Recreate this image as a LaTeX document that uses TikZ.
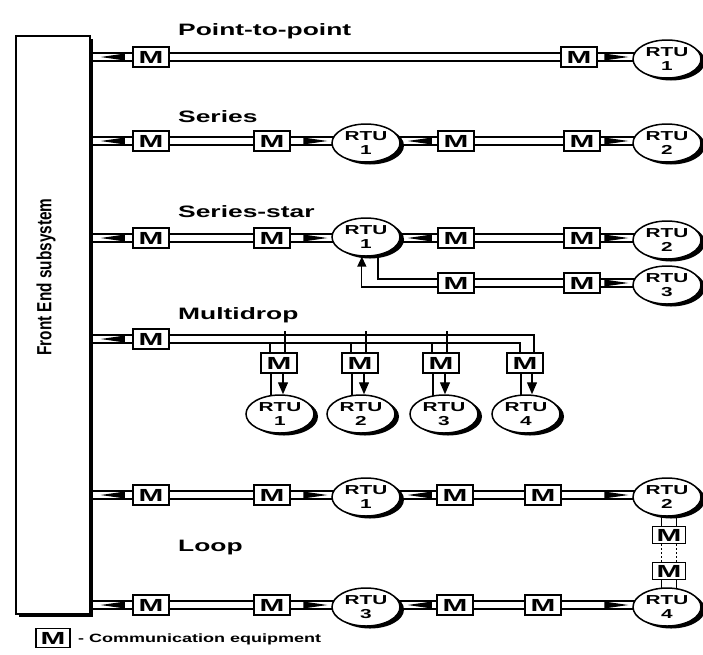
\documentclass[tikz,border=0pt]{standalone}
\usepackage{fontspec}
\usetikzlibrary{calc,shapes.geometric,shadows,arrows.meta}
\newfontfamily\lblfont{Liberation Sans Bold}[FakeStretch=1.6]
\newfontfamily\mfont{Liberation Sans Bold}[FakeStretch=1.7]
\newfontfamily\legfont{Liberation Sans Bold}[FakeStretch=1.5]
\newfontfamily\fefont{Liberation Sans Bold}[FakeStretch=0.75]
\pgfdeclarelayer{paper}
\pgfdeclarelayer{wires}
\pgfsetlayers{paper,wires,main}
% flow wedges inside a double line: tip given, body trails behind it
\newcommand\wedgeR[1]{\fill #1 -- ++(-24,-3.5) -- ++(0,7) -- cycle;}
\newcommand\wedgeL[1]{\fill #1 -- ++(24,-3.5) -- ++(0,7) -- cycle;}
\begin{document}
\begin{tikzpicture}[x=1pt,y=-1pt,
  mbox/.style={draw, line width=1.8pt, fill=white, minimum width=36pt, minimum height=20pt,
    inner sep=0pt, font=\mfont\fontsize{17.5}{17.5}\selectfont},
  vbox/.style={mbox, minimum width=33pt, minimum height=17pt},
  rtu/.style={ellipse, draw, line width=1.5pt, fill=white, minimum width=68pt, minimum height=38pt,
    inner sep=0pt, align=center, font=\lblfont\fontsize{13}{14}\selectfont,
    general shadow={fill=black, shadow xshift=4pt, shadow yshift=-2.5pt}},
  ttl/.style={anchor=west, inner sep=0pt, font=\lblfont\fontsize{16.5}{16.5}\selectfont},
  pipe/.style={double, double distance=6.5pt, line width=1.3pt},
  wire/.style={line width=1.3pt},
  dotwire/.style={line width=1.3pt, dash pattern=on 2pt off 2pt},
  drop/.style={wire, -{Triangle[length=12pt,width=10pt]}},
  rise/.style={wire, -{Triangle[length=10pt,width=9pt]}}]

\begin{pgfonlayer}{paper}
  \fill[white] (0,0) rectangle (703,654);
\end{pgfonlayer}
\useasboundingbox (0,0) rectangle (703,654);

% front end block
\node[draw, line width=1.6pt, fill=white, minimum width=74pt, minimum height=578pt, inner sep=0pt,
  general shadow={fill=black, shadow xshift=3pt, shadow yshift=-3pt}] (fe) at (53,325) {};
\node[rotate=90, inner sep=0pt, font=\fefont\fontsize{20.5}{21}\selectfont] (felabel) at (46,277) {Front End subsystem};

% titles
\node[ttl] (tp2p) at (178,31) {Point-to-point};
\node[ttl] (tser) at (178,117) {Series};
\node[ttl] (tstar) at (178,212) {Series-star};
\node[ttl] (tmulti) at (178,315) {Multidrop};
\node[ttl] (tloop) at (178,548) {Loop};

% point-to-point
\node[mbox] (m11) at (151,57) {M};
\node[mbox] (m12) at (579,57) {M};
\node[rtu] (r11) at (667,59) {RTU\\1};

% series
\node[mbox] (m21) at (151,141) {M};
\node[mbox] (m22) at (272,141) {M};
\node[rtu] (r21) at (366,143) {RTU\\1};
\node[mbox] (m23) at (456,141) {M};
\node[mbox] (m24) at (582,141) {M};
\node[rtu] (r22) at (667,143) {RTU\\2};

% series-star
\node[mbox] (m31) at (151,238) {M};
\node[mbox] (m32) at (272,238) {M};
\node[rtu] (r31) at (366,237) {RTU\\1};
\node[mbox] (m33) at (456,238) {M};
\node[mbox] (m34) at (582,238) {M};
\node[rtu] (r32) at (667,240) {RTU\\2};
\node[mbox] (m35) at (456,283) {M};
\node[mbox] (m36) at (582,283) {M};
\node[rtu] (r33) at (667,285) {RTU\\3};

% multidrop
\node[mbox] (m41) at (151,339) {M};
\node[mbox] (d1) at (279,363) {M};
\node[mbox] (d2) at (360,363) {M};
\node[mbox] (d3) at (441,363) {M};
\node[mbox] (d4) at (525,363) {M};
\node[rtu] (q1) at (280,414) {RTU\\1};
\node[rtu] (q2) at (361,414) {RTU\\2};
\node[rtu] (q3) at (444,414) {RTU\\3};
\node[rtu] (q4) at (526,414) {RTU\\4};
\coordinate (busTick) at (0,331);
\coordinate (busLow) at (0,343);

% loop
\node[mbox] (m51) at (151,495) {M};
\node[mbox] (m52) at (272,495) {M};
\node[rtu] (r51) at (366,497) {RTU\\1};
\node[mbox] (m53) at (455,495) {M};
\node[mbox] (m54) at (543,495) {M};
\node[rtu] (r52) at (667,497) {RTU\\2};
\node[vbox] (mv1) at (669,535) {M};
\node[vbox] (mv2) at (669,571) {M};
\node[rtu] (r54) at (667,607) {RTU\\4};
\node[mbox] (m61) at (151,605) {M};
\node[mbox] (m62) at (272,605) {M};
\node[rtu] (r53) at (366,607) {RTU\\3};
\node[mbox] (m63) at (455,605) {M};
\node[mbox] (m64) at (543,605) {M};

% legend
\node[mbox, minimum width=34pt, minimum height=19pt] (legm) at (53,638) {M};
\node[anchor=west, inner sep=0pt, font=\legfont\fontsize{12}{12}\selectfont] (legt) at (78,639) {- Communication equipment};

\begin{pgfonlayer}{wires}
  % point-to-point
  \draw[pipe] (fe.east |- m11) -- (m11.center) -- (m12.center) -- (m12 -| r11.center);
  % series
  \draw[pipe] (fe.east |- m21) -- (m21.center) -- (m22.center) -- (m22 -| r21.center);
  \draw[pipe] (r21.center |- m23) -- (m23.center) -- (m24.center) -- (m24 -| r22.center);
  % series-star
  \draw[pipe] (fe.east |- m31) -- (m31.center) -- (m32.center) -- (m32 -| r31.center);
  \draw[pipe] (r31.center |- m33) -- (m33.center) -- (m34.center) -- (m34 -| r32.center);
  \draw[pipe] (m35.center) -- (m36.center) -- (m36 -| r33.center);
  % multidrop trunk and drops
  \draw[pipe] (fe.east |- m41) -- (m41.center);
  \draw[wire] ($(m41.center)+(0,-4)$) -| ([xshift=9pt]d4.center);
  \draw[wire] ($(m41.center)+(0,4)$) -| ([xshift=-5pt]d4.center);
  \foreach \d in {d1,d2,d3}{
    \draw[wire] ([xshift=6pt]\d.center) -- ([xshift=6pt]\d.center |- busTick);
    \draw[wire] ([xshift=-9pt]\d.center) -- ([xshift=-9pt]\d.center |- busLow);
  }
  \foreach \d/\q in {d1/q1,d2/q2,d3/q3}{
    \draw[wire] ([xshift=-8pt]\d.center) -- ([xshift=-8pt]\d.center |- \q.center);
  }
  \draw[wire] ([xshift=-4pt]d4.center) -- ([xshift=-4pt]d4.center |- q4.center);
  % loop
  \draw[pipe] (fe.east |- m51) -- (m51.center) -- (m52.center) -- (m52 -| r51.center);
  \draw[pipe] (r51.center |- m53) -- (m53.center) -- (m54.center) -- (m54 -| r52.center);
  \draw[pipe] (fe.east |- m61) -- (m61.center) -- (m62.center) -- (m62 -| r53.center);
  \draw[pipe] (r53.center |- m63) -- (m63.center) -- (m64.center) -- (m64 -| r54.center);
  \foreach \s in {-7.5,7.5}{
    \draw[wire] ([xshift=\s pt]mv1.center) -- ([xshift=\s pt]mv1.center |- r52.center);
    \draw[dotwire] ([xshift=\s pt]mv1.south) -- ([xshift=\s pt]mv2.north);
    \draw[wire] ([xshift=\s pt]mv2.center) -- ([xshift=\s pt]mv2.center |- r54.center);
  }
\end{pgfonlayer}

% series-star branch back to RTU 1
\draw[wire] (r31.-57) |- ($(m35.west)+(0,-4)$);
\draw[rise] ($(m35.west)+(0,4)$) -| (r31.-102);

% multidrop arrows into the RTUs
\foreach \d/\q in {d1/q1,d2/q2,d3/q3}{
  \draw[drop] ([xshift=4pt]\d.south) -- ([xshift=4pt]\d.south |- \q.north);
}
\draw[drop] ([xshift=7pt]d4.south) -- ([xshift=7pt]d4.south |- q4.north);

% flow wedges
\foreach \m in {m11,m21,m31,m41,m51,m61}{
  \wedgeL{($(fe.east |- \m)+(10,0)$)}
}
\wedgeR{($(r11.west |- m12)+(-4,0)$)}
\wedgeR{($(r21.west |- m22)+(-4,0)$)}
\wedgeL{($(r21.east |- m23)+(7,0)$)}
\wedgeR{($(r22.west |- m24)+(-4,0)$)}
\wedgeR{($(r31.west |- m32)+(-4,0)$)}
\wedgeL{($(r31.east |- m33)+(7,0)$)}
\wedgeR{($(r32.west |- m34)+(-4,0)$)}
\wedgeR{($(r33.west |- m36)+(-4,0)$)}
\wedgeR{($(r51.west |- m52)+(-4,0)$)}
\wedgeL{($(r51.east |- m53)+(7,0)$)}
\wedgeR{($(r52.west |- m54)+(-4,0)$)}
\wedgeR{($(r53.west |- m62)+(-4,0)$)}
\wedgeL{($(r53.east |- m63)+(7,0)$)}
\wedgeR{($(r54.west |- m64)+(-4,0)$)}
\end{tikzpicture}
\end{document}
